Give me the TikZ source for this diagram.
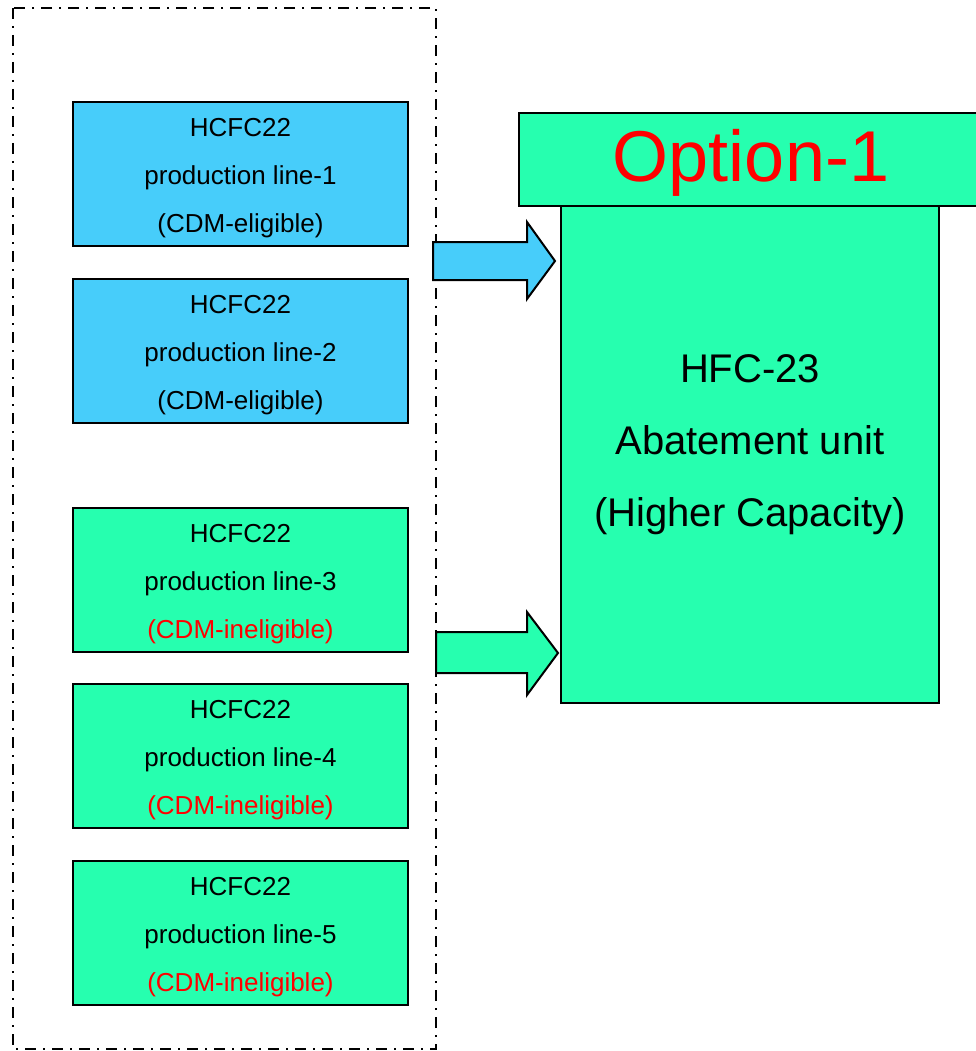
\documentclass[tikz,border=0pt]{standalone}
\usepackage{fontspec}
\setmainfont{Liberation Sans}
\definecolor{lblue}{RGB}{71,205,250}
\definecolor{lgreen}{RGB}{38,255,175}
\definecolor{tred}{RGB}{255,0,0}
\begin{document}
\begin{tikzpicture}[x=1pt,y=-1pt,
  linebox/.style={draw=black,line width=2pt,minimum width=335pt,minimum height=144pt,
    inner sep=0pt,align=center,anchor=north west},
  boxtext/.style={align=center,font=\fontsize{26}{48}\selectfont,inner sep=0pt},
  bluebox/.style={linebox,fill=lblue},
  greenbox/.style={linebox,fill=lgreen},
  blockarrow/.style={draw=black,line width=2pt,line join=miter},
  frame/.style={draw=black,line width=2pt,dash pattern=on 11pt off 7pt on 2pt off 7pt}
]
\useasboundingbox (0,0) rectangle (976,1051);
% frame
\draw[frame] (13,8) rectangle (436,1049);
% production lines
\node[bluebox] (l1) at (72,101) {};
\node[boxtext] (t1) at ([yshift=-4pt]l1.center) {HCFC22\\production line-1\\(CDM-eligible)};
\node[bluebox] (l2) at (72,278) {};
\node[boxtext] (t2) at ([yshift=-4pt]l2.center) {HCFC22\\production line-2\\(CDM-eligible)};
\node[greenbox] (l3) at (72,507) {};
\node[boxtext] (t3) at ([yshift=-4pt]l3.center) {HCFC22\\production line-3\\\textcolor{tred}{(CDM-ineligible)}};
\node[greenbox] (l4) at (72,683) {};
\node[boxtext] (t4) at ([yshift=-4pt]l4.center) {HCFC22\\production line-4\\\textcolor{tred}{(CDM-ineligible)}};
\node[greenbox] (l5) at (72,860) {};
\node[boxtext] (t5) at ([yshift=-4pt]l5.center) {HCFC22\\production line-5\\\textcolor{tred}{(CDM-ineligible)}};
% abatement unit
\draw[draw=black,line width=2pt,fill=lgreen] (561,200) rectangle (939,703);
\node[font=\fontsize{40}{72}\selectfont,align=center] (abat) at (750,445) {HFC-23\\Abatement unit\\(Higher Capacity)};
% option box
\draw[draw=black,line width=2pt,fill=lgreen] (519,113) rectangle (1000,206);
\node[font=\fontsize{72}{80}\selectfont,text=tred] (opt) at (751,163) {Option-1};
% arrows
\draw[blockarrow,fill=lblue] (433,242) -- (527,242) -- (527,222) -- (555,261) -- (527,299) -- (527,280) -- (433,280) -- cycle;
\draw[blockarrow,fill=lgreen] (436,632) -- (527,632) -- (527,612) -- (558,653) -- (527,695) -- (527,673) -- (436,673) -- cycle;
\end{tikzpicture}
\end{document}
